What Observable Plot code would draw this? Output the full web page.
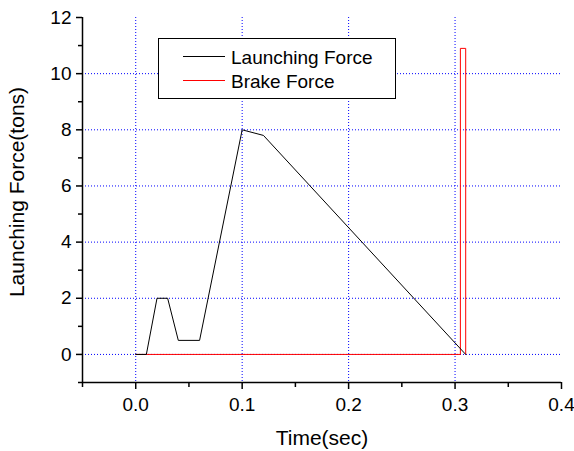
<!DOCTYPE html>
<html>
<head>
<meta charset="utf-8">
<script src="https://cdn.jsdelivr.net/npm/d3@7"></script>
<script src="https://cdn.jsdelivr.net/npm/@observablehq/plot@0.6"></script>
<style>
  body { margin: 0; background: #fff; }
  #wrap { position: relative; width: 574px; height: 451px; font-family: "Liberation Sans", Arial, sans-serif; }
  #legend { position: absolute; left: 158px; top: 38px; width: 236px; height: 59px; border: 1px solid #000; background: #fff; }
  .row { position: absolute; left: 0; height: 19px; line-height: 19px; font-size: 19px; color: #000; white-space: nowrap; }
  .row .swatch { position: absolute; left: 24px; top: 8px; width: 42px; height: 0; border-top: 1px solid; }
  .row .lbl { position: absolute; left: 72px; top: 0; }
</style>
</head>
<body>
<div id="wrap"></div>
<script>
// Data
const launchT = [0, 0.01, 0.02, 0.03, 0.04, 0.06, 0.10, 0.12, 0.31];
const launchF = [0, 0, 2, 2, 0.5, 0.5, 8, 7.8, 0];
const brakeT = [0, 0.305, 0.305, 0.31, 0.31];
const brakeF = [0, 0, 10.9, 10.9, 0];
const seriesNames = ["Launching Force", "Brake Force"];
const seriesColors = ["#000000", "#ff0000"];
const xTicks = [0, 0.1, 0.2, 0.3, 0.4];
const xMinorTicks = [-0.05, 0.05, 0.15, 0.25, 0.35];
const yTicks = [0, 2, 4, 6, 8, 10, 12];
const yMinorTicks = [-1, 1, 3, 5, 7, 9, 11];
const xGrid = [0, 0.1, 0.2, 0.3];
const yGrid = [0, 2, 4, 6, 8, 10];
const xTitle = "Time(sec)";
const yTitle = "Launching Force(tons)";

const launch = launchT.map((t, i) => ({t, f: launchF[i]}));
const brake = brakeT.map((t, i) => ({t, f: brakeF[i]}));

const font = "'Liberation Sans', Arial, sans-serif";

const chart = Plot.plot({
  width: 574,
  height: 451,
  marginLeft: 82,
  marginRight: 13,
  marginTop: 17,
  marginBottom: 69,
  style: {fontFamily: font, background: "#fff", color: "#000"},
  x: {domain: [-0.05, 0.4]},
  y: {domain: [-1, 12]},
  marks: [
    Plot.gridX(xGrid, {stroke: "#0000ff", strokeOpacity: 1, strokeDasharray: "1,2", strokeWidth: 1}),
    Plot.gridY(yGrid, {stroke: "#0000ff", strokeOpacity: 1, strokeDasharray: "1,2", strokeWidth: 1}),
    Plot.line(brake, {x: "t", y: "f", stroke: seriesColors[1], strokeWidth: 1}),
    Plot.line(launch, {x: "t", y: "f", stroke: seriesColors[0], strokeWidth: 1}),
    Plot.axisX(xTicks, {tickSize: 7, tickPadding: 8, tickFormat: d3.format(".1f"), fontSize: 19, label: null, strokeWidth: 1.5}),
    Plot.axisX(xMinorTicks, {tickSize: 5, text: null, label: null, strokeWidth: 1.5}),
    Plot.axisY(yTicks, {tickSize: 6, tickPadding: 5, fontSize: 19, label: null, strokeWidth: 1.5}),
    Plot.axisY(yMinorTicks, {tickSize: 4, text: null, label: null, strokeWidth: 1.5}),
    Plot.ruleX([-0.05], {stroke: "#000", strokeWidth: 1.5}),
    Plot.ruleY([-1], {stroke: "#000", strokeWidth: 1.5}),
    Plot.text([xTitle], {frameAnchor: "bottom", lineAnchor: "top", dy: 48, fontSize: 21, text: d => d}),
    Plot.text([yTitle], {frameAnchor: "left", textAnchor: "middle", lineAnchor: "top", rotate: -90, dx: -73, dy: -8, fontSize: 21, text: d => d})
  ]
});

const wrap = document.getElementById("wrap");
wrap.appendChild(chart);

const legend = document.createElement("div");
legend.id = "legend";
const rowTops = [8.6, 33.2];
seriesNames.forEach((name, i) => {
  const row = document.createElement("div");
  row.className = "row";
  row.style.top = rowTops[i] + "px";
  const sw = document.createElement("span");
  sw.className = "swatch";
  sw.style.borderTopColor = seriesColors[i];
  const lbl = document.createElement("span");
  lbl.className = "lbl";
  lbl.textContent = name;
  row.appendChild(sw);
  row.appendChild(lbl);
  legend.appendChild(row);
});
wrap.appendChild(legend);
</script>
</body>
</html>
